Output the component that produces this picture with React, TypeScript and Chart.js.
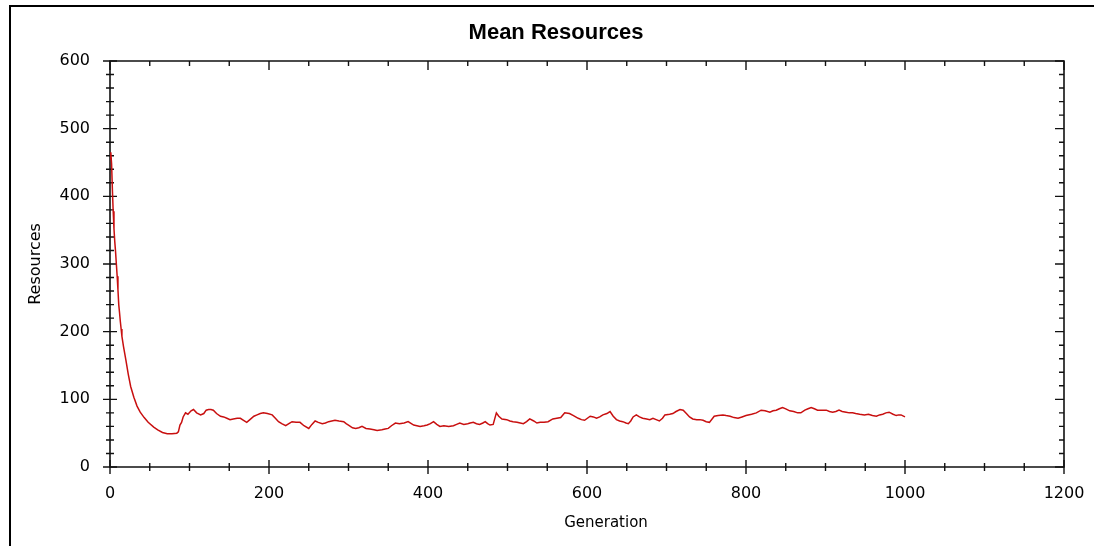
import React, { useEffect, useRef } from "react";
import { Chart, registerables } from "chart.js";

Chart.register(...registerables);

const TITLE = "Mean Resources";
const X_TITLE = "Generation";
const Y_TITLE = "Resources";

const X_TICKS = [0, 200, 400, 600, 800, 1000, 1200];
const Y_TICKS = [0, 100, 200, 300, 400, 500, 600];

const generations = [
  0, 1, 2, 3, 4, 5, 6, 7, 8, 9, 10, 11, 12, 13, 14, 15, 17, 20, 23, 26,
  30, 34, 38, 43, 48, 55, 60, 66, 72, 78, 84, 86, 88, 90, 92, 95, 98, 102, 105, 109,
  114, 118, 121, 124, 127, 130, 134, 139, 143, 147, 151, 155, 160, 164, 168, 172, 176, 181, 185, 189,
  193, 198, 204, 208, 212, 216, 221, 225, 229, 234, 239, 244, 250, 254, 258, 262, 267, 271, 275, 279,
  283, 288, 294, 297, 300, 305, 309, 313, 317, 322, 327, 332, 336, 342, 346, 350, 354, 359, 364, 370,
  375, 382, 386, 390, 395, 399, 403, 407, 411, 415, 420, 426, 432, 436, 440, 445, 450, 453, 457, 461,
  465, 469, 472, 475, 478, 482, 486, 489, 493, 499, 503, 507, 512, 516, 520, 524, 528, 533, 537, 541,
  546, 551, 557, 562, 567, 572, 578, 583, 589, 593, 597, 604, 608, 612, 616, 620, 625, 629, 633, 637,
  641, 645, 649, 652, 655, 658, 662, 666, 670, 675, 679, 683, 687, 691, 695, 698, 704, 708, 712, 717,
  721, 725, 729, 733, 738, 742, 746, 750, 754, 760, 765, 771, 775, 780, 785, 790, 795, 800, 807, 813,
  819, 824, 830, 834, 838, 842, 846, 850, 855, 860, 865, 869, 874, 878, 882, 886, 890, 895, 901, 905,
  909, 913, 917, 921, 926, 930, 934, 938, 943, 949, 954, 959, 964, 968, 972, 976, 980, 985, 989, 992,
  995, 1000,
];

const meanResources = [
  455, 465, 448, 410, 378, 352, 333, 318, 300, 282, 262, 240, 228, 215, 204, 193, 178, 158, 137, 119,
  103, 90, 81, 73, 66, 59, 55, 51, 49, 49, 50, 52, 62, 66, 74, 80, 78, 83, 85, 80,
  77, 79, 84, 85, 85, 84, 79, 75, 74, 72, 70, 71, 72, 72, 69, 66, 70, 75, 77, 79,
  80, 79, 77, 72, 67, 64, 61, 64, 67, 66, 66, 61, 57, 63, 68, 66, 64, 65, 67, 68,
  69, 68, 67, 64, 62, 58, 57, 58, 60, 57, 56, 55, 54, 55, 56, 57, 61, 65, 64, 65,
  67, 62, 61, 60, 61, 62, 64, 67, 63, 60, 61, 60, 61, 63, 65, 63, 64, 65, 66, 64,
  63, 65, 67, 64, 62, 63, 80, 75, 71, 70, 68, 67, 66, 65, 64, 67, 71, 68, 65, 66,
  66, 67, 71, 72, 73, 80, 79, 76, 72, 70, 69, 75, 74, 72, 74, 77, 79, 82, 75, 70,
  68, 67, 65, 64, 68, 74, 77, 74, 72, 71, 70, 72, 70, 68, 72, 77, 78, 79, 82, 85,
  84, 79, 74, 71, 70, 70, 69, 67, 66, 75, 76, 77, 76, 75, 73, 72, 74, 76, 78, 80,
  84, 83, 81, 83, 84, 86, 88, 86, 83, 82, 80, 80, 84, 86, 88, 86, 84, 84, 84, 82,
  81, 82, 84, 82, 81, 80, 80, 79, 78, 77, 78, 76, 75, 77, 78, 80, 81, 78, 76, 77,
  77, 74,
];

const X_MIN = 0;
const X_MAX = 1200;
const Y_MIN = 0;
const Y_MAX = 600;

const axesPlugin = {
  id: "axesAndFrame",
  beforeDraw(chart: any) {
    const ctx = chart.ctx;
    ctx.save();
    ctx.fillStyle = "#ffffff";
    ctx.fillRect(0, 0, chart.width, chart.height);
    ctx.strokeStyle = "#000000";
    ctx.lineWidth = 2;
    ctx.beginPath();
    ctx.moveTo(10, chart.height + 2);
    ctx.lineTo(10, 6);
    ctx.lineTo(chart.width + 2, 6);
    ctx.stroke();
    ctx.restore();
  },
  beforeDatasetsDraw(chart: any) {
    const ctx = chart.ctx;
    const xs = chart.scales.x;
    const ys = chart.scales.y;
    const x0 = xs.getPixelForValue(X_MIN);
    const x1 = xs.getPixelForValue(X_MAX);
    const y0 = ys.getPixelForValue(Y_MIN);
    const y1 = ys.getPixelForValue(Y_MAX);
    ctx.save();
    ctx.strokeStyle = "#111111";
    ctx.lineWidth = 1.6;
    ctx.beginPath();
    ctx.rect(x0, y1, x1 - x0, y0 - y1);
    ctx.stroke();
    ctx.lineWidth = 1.4;
    ctx.beginPath();
    for (let v = Y_MIN; v <= Y_MAX; v += 20) {
      const p = ys.getPixelForValue(v);
      const major = v % 100 === 0;
      const l = major ? 7 : 4;
      ctx.moveTo(x0 - l, p);
      ctx.lineTo(x0 + l, p);
      const r = major ? 9 : 5;
      ctx.moveTo(x1, p);
      ctx.lineTo(x1 - r, p);
    }
    for (let v = X_MIN; v <= X_MAX; v += 50) {
      const p = xs.getPixelForValue(v);
      const major = v % 200 === 0;
      const l = major ? 7 : 4;
      ctx.moveTo(p, y0 - l);
      ctx.lineTo(p, y0 + l);
      const t = major ? 9 : 5;
      ctx.moveTo(p, y1);
      ctx.lineTo(p, y1 + t);
    }
    ctx.stroke();
    ctx.restore();
  },
  afterDraw(chart: any) {
    const ctx = chart.ctx;
    ctx.save();
    ctx.fillStyle = "#000000";
    ctx.font = "15px 'DejaVu Sans'";
    ctx.textAlign = "center";
    ctx.textBaseline = "middle";
    ctx.fillText(X_TITLE, 606, 523);
    ctx.restore();
  },
};

export default function App() {
  const canvasRef = useRef<HTMLCanvasElement | null>(null);

  useEffect(() => {
    const canvas = canvasRef.current;
    if (!canvas) return;
    const points = generations.map((g, i) => ({ x: g, y: meanResources[i] }));
    const tickFont = { family: "DejaVu Sans", size: 16 };
    const chart = new Chart(canvas, {
      type: "line",
      data: {
        datasets: [
          {
            label: TITLE,
            data: points,
            borderColor: "#c80f0f",
            borderWidth: 1.5,
            pointRadius: 0,
            tension: 0,
            fill: false,
            yAxisID: "y",
            xAxisID: "x",
          },
        ],
      },
      options: {
        responsive: false,
        animation: false,
        devicePixelRatio: 1,
        layout: { padding: { left: 18, right: 0, top: 0, bottom: 0 } },
        plugins: {
          legend: { display: false },
          tooltip: { enabled: false },
          title: {
            display: true,
            text: TITLE,
            color: "#000000",
            font: { family: "Liberation Sans", size: 22, weight: "bold", lineHeight: 1 },
            padding: { top: 22, bottom: 17 },
          },
        },
        scales: {
          x: {
            type: "linear",
            min: X_MIN,
            max: X_MAX,
            afterBuildTicks: (s: any) => {
              s.ticks = X_TICKS.map((v) => ({ value: v }));
            },
            ticks: {
              font: tickFont,
              color: "#000000",
              padding: 17,
              maxRotation: 0,
              callback: (v: any) => String(v),
            },
            grid: { display: false, drawTicks: false },
            border: { display: false },
            title: { display: false, text: X_TITLE },
            afterFit: (s: any) => {
              s.height = 79;
              s.paddingLeft = 0;
              s.paddingRight = 0;
            },
          },
          y: {
            type: "linear",
            position: "left",
            min: Y_MIN,
            max: Y_MAX,
            afterBuildTicks: (s: any) => {
              s.ticks = Y_TICKS.map((v) => ({ value: v }));
            },
            ticks: { font: tickFont, color: "#000000", padding: 20, callback: (v: any) => String(v) },
            grid: { display: false, drawTicks: false },
            border: { display: false },
            title: {
              display: true,
              text: Y_TITLE,
              color: "#000000",
              font: { family: "DejaVu Sans", size: 16, lineHeight: 1.2 },
              padding: { top: 8, bottom: 0 },
            },
            afterFit: (s: any) => {
              s.width = 92;
              s.paddingTop = 0;
              s.paddingBottom = 0;
            },
          },
          y2: {
            type: "linear",
            position: "right",
            min: 0,
            max: 1,
            ticks: { display: false },
            grid: { display: false, drawTicks: false },
            border: { display: false },
            afterFit: (s: any) => {
              s.width = 30;
            },
          },
        },
      },
      plugins: [axesPlugin],
    });
    return () => chart.destroy();
  }, []);

  return (
    <div style={{ position: "fixed", left: 0, top: 0, width: 1094, height: 546, background: "#fff" }}>
      <canvas ref={canvasRef} width={1094} height={546} style={{ width: 1094, height: 546, display: "block" }} />
    </div>
  );
}
